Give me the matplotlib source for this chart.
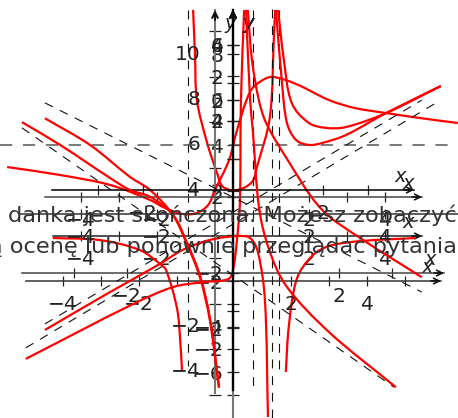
import matplotlib
matplotlib.use('Agg')
import numpy as np
import matplotlib.pyplot as plt
from matplotlib.path import Path
from matplotlib.patches import PathPatch

W, H = 458, 418

# curve values, each in the units of the panel it is drawn on
a_x = [-5.47, -4.08, -2.76, -1.71, -1.32, -0.84, -0.47, -0.18, 0, 0.37, 0.58, 0.92, 1.18, 1.5, 2.13, 3, 3.68, 4.5, 5.39, 6.39]
a_y = [5.02, 4.67, 4.23, 3.57, 3.22, 2.95, 3.0, 3.35, 4.01, 5.33, 6.65, 8.33, 8.77, 8.99, 8.68, 7.97, 7.62, 7.4, 7.18, 6.96]

c_left_x = [-4.74, -3.5, -2.45, -1.92, -1.76, -1.47, -1.39, -1.34]
c_left_y = [-0.09, -0.18, -0.62, -1.23, -1.5, -3.22, -4.58, -5.99]
c_mid_x = [-1.05, -1.0, -0.95, -0.68, -0.42, -0.26, 0.11, 0.5, 0.63, 0.97, 1.08, 1.11]
c_mid_y = [9.96, 7.97, 5.99, 4.1, 2.78, 2.16, 2.03, 2.38, 3.04, 5.24, 8.94, 9.96]
c_right_x = [1.39, 1.47, 1.68, 2.08, 2.53, 3.39, 4.79]
c_right_y = [-5.99, -3.96, -1.89, -0.88, -0.44, -0.22, -0.09]

b_left_x = [-4.95, -3.32, -1.92, -1.32, -0.61, 0.11, 0.45, 0.66, 0.84, 0.92]
b_left_y = [-3.5, -2.55, -1.76, -1.39, -1.13, -1.03, -1.08, -1.47, -2.71, -5.79]
b_right_x = [1.13, 1.29, 1.42, 1.66, 2, 2.34, 2.97, 4.03, 5.47]
b_right_y = [4.92, 3.0, 1.95, 1.5, 1.37, 1.42, 1.63, 2.21, 2.92]

d_left_x = [-3.91, -1.89, -1.13, -0.57, -0.09, 0, 0.08, 0.13, 0.15, 0.21]
d_left_y = [-2.26, -0.82, -0.37, -0.24, -0.16, 0.08, 0.95, 1.84, 4.55, 6.92]
d_right_x = [0.85, 0.96, 1.11, 1.43, 1.75, 2.13, 2.89, 3.92]
d_right_y = [6.92, 5.61, 4.47, 3.95, 3.82, 3.84, 4.21, 4.92]

e_left_x = [-4.69, -3.84, -2.73, -2.29, -1.84, -1.33, -1.02, -0.73, -0.51, -0.31]
e_left_y = [1.19, 0.79, 0.21, 0, -0.12, -0.44, -0.93, -1.51, -2.26, -3.46]
e_right_x = [0.29, 0.38, 0.44, 0.58, 0.8, 1.18, 2.13, 3.62]
e_right_y = [3.16, 1.58, 1.05, -0.32, -1.04, -1.68, -2.49, -3.46]

f_left_x = [-4.95, -3.76, -2.71, -2.18, -1.58, -1.21, -0.87, -0.61, -0.37]
f_left_y = [1.68, 1.21, 0.65, 0.42, -0.02, -0.53, -1.11, -1.86, -3.05]
f_right_x = [0.39, 0.5, 0.68, 0.87, 1.39, 2.32, 3.39, 4.97]
f_right_y = [3.58, 2.7, 2.0, 1.6, 1.0, 0.09, -0.44, -1.11]

# asymptotes
a_hline = [6]
c_vlines = [-1.18, 1.21]
b_vline = [1.03]
d_vline = [0.38]
b_slant = ([-4.95, 4.97], [-3.34, 2.55])
d_slant = ([-3.91, 3.92], [-1.97, 4.55])
e_slant = ([-4.69, 3.58], [1.09, -3.46])
f_slant = ([-4.95, 4.97], [1.95, -1.37])


# each call adds one overlaid coordinate system, placed by its origin and scale in pixels
def panel(x0, y0, sx, sy, xticks, xlabels, yticks, ylabels, xspan, yspan, xcolor, ycolor, ypad, xname='x'):
    ax = fig.add_axes([0, 0, 1, 1], facecolor='none')
    ax.set_xlim(-x0 / sx, (W - x0) / sx)
    ax.set_ylim((y0 - H) / sy, y0 / sy)
    for s in ['top', 'right']:
        ax.spines[s].set_visible(False)
    ax.spines['bottom'].set_position(('data', 0))
    ax.spines['left'].set_position(('data', 0))
    ax.spines['bottom'].set_bounds((xspan[0] - x0) / sx, (xspan[1] - x0) / sx)
    ax.spines['left'].set_bounds((y0 - yspan[1]) / sy, (y0 - yspan[0]) / sy)
    ax.spines['bottom'].set_color(xcolor)
    ax.spines['left'].set_color(ycolor)
    ax.spines['bottom'].set_linewidth(1.1)
    ax.spines['left'].set_linewidth(1.5)
    ax.set_xticks(xticks, xlabels)
    ax.set_yticks(yticks, ylabels)
    ax.tick_params(axis='x', direction='inout', length=7.5, width=0.9, pad=6.5, colors='#222222', labelsize=14.5)
    ax.tick_params(axis='y', direction='inout', length=8.5, width=0.9, pad=ypad, colors='#222222', labelsize=14.5)
    xend = (xspan[1] - x0) / sx
    ax.annotate('', xy=(xend, 0), xytext=(xend - 10 / sx, 0),
                arrowprops=dict(arrowstyle='->', lw=1.2, color='#111111', shrinkA=0, shrinkB=0))
    ax.annotate('', xy=(0, (y0 - yspan[0]) / sy), xytext=(0, (y0 - yspan[0] - 10) / sy),
                arrowprops=dict(arrowstyle='->', lw=1.5, color='#111111', shrinkA=0, shrinkB=0))
    ax.annotate(xname, xy=(xend, 0), xytext=(-10, 10), textcoords='offset points', ha='center', va='center',
                fontsize=14, style='italic', color='#222222')
    ax.annotate('y', xy=(0, (y0 - yspan[0]) / sy), xytext=(11, -10), textcoords='offset points', ha='center', va='center',
                fontsize=14, style='italic', color='#222222')
    return ax


def smooth(ax, xs, ys):
    # bezier segments through the read points, tangents taken in pixels so steep parts do not overshoot
    p = ax.transData.transform(np.column_stack([xs, ys]))
    d = np.linalg.norm(np.diff(p, axis=0), axis=1)
    tang = np.gradient(p, axis=0)
    tang[1:-1] = p[2:] - p[:-2]
    tang[0] = p[1] - p[0]
    tang[-1] = p[-1] - p[-2]
    tang = tang / np.linalg.norm(tang, axis=1, keepdims=True)
    verts = [p[0]]
    codes = [Path.MOVETO]
    for i in range(len(p) - 1):
        verts += [p[i] + tang[i] * d[i] / 3, p[i + 1] - tang[i + 1] * d[i] / 3, p[i + 1]]
        codes += [Path.CURVE4] * 3
    verts = ax.transData.inverted().transform(np.array(verts))
    ax.add_patch(PathPatch(Path(verts, codes), fill=False, edgecolor='#ff0000', lw=1.6, capstyle='butt', zorder=5))


def dashed(ax, xs, ys, color='#111111', lw=0.8):
    ax.plot(xs, ys, color=color, lw=lw, dashes=(8, 7), zorder=3)


fig = plt.figure(figsize=(W / 100, H / 100), dpi=100)

# y = 236 system, gray tail of the axis reaches the bottom
ax3 = panel(233, 236, 38, 22.7, [-4, -3, -2, 2, 3, 4], ['−4', '', '−2', '2', '', '4'],
            [-7, -6, -4, -2, 2, 4, 6, 8], ['', '−6', '−4', '−2', '2', '4', '6', '8'],
            (53, 422), (10, 418), '#222222', '#777777', 2.5)
# y = 281 system on the left gray axis
ax1 = panel(215, 281, 38, 22.7, [-4, -3, -2, -1, 1, 2, 3, 4, 5], ['−4', '', '−2', '', '', '2', '', '4', ''],
            [-5, -3, -1, 1, 3, 5, 7, 9, 11], [''] * 9,
            (26, 441), (10, 393), '#333333', '#777777', 6.5)
for v, lab in zip([-4, -2, 4, 6, 8, 10], ['−4', '−2', '4', '6', '8', '10']):
    ax1.text(-0.39, v, lab, ha='right', va='center', fontsize=14.5, color='#222222')
ax2 = panel(233, 273, 53, 38, [-3, -2, 2, 3], ['', '−2', '2', ''],
            [-2, -1, 1, 2, 3, 4, 5, 6], ['−2', '', '', '2', '', '4', '', '6'],
            (22, 444), (10, 390), '#444444', '#000000', 2.5)
ax4 = panel(233, 197, 38, 38, [-4, -3, -2, 2, 3, 4], ['−4', '', '−2', '2', '', '4'],
            [-2, -1, 1, 2, 4], ['−2', '', '', '2', '4'],
            (45, 422), (10, 390), '#444444', '#000000', 2.5)
ax5 = panel(233, 214, 38, 57, [-4, -2, 2, 4], ['−4', '−2', '2', '4'],
            [-2, 2], ['−2', '2'],
            (20, 460), (10, 390), '#333333', '#000000', 2.5, xname='x,')
ax6 = panel(233, 190, 45, 57, [-3, -2, 2, 3], ['', '−2', '2', ''],
            [-2, 2], ['', '2'],
            (52, 414), (10, 390), '#000000', '#000000', 2.5)

dashed(ax1, ax1.get_xlim(), a_hline * 2, color='#555555', lw=1.1)
dashed(ax3, [c_vlines[0]] * 2, [9.96, -5.73])
dashed(ax3, [c_vlines[1]] * 2, [9.96, -5.99])
dashed(ax4, b_vline * 2, [4.95, -5.82])
dashed(ax2, d_vline * 2, [6.92, -3.16])
dashed(ax4, *b_slant)
dashed(ax2, *d_slant)
dashed(ax6, *e_slant)
dashed(ax5, *f_slant)

smooth(ax1, a_x, a_y)
smooth(ax3, c_left_x, c_left_y)
smooth(ax3, c_mid_x, c_mid_y)
smooth(ax3, c_right_x, c_right_y)
smooth(ax4, b_left_x, b_left_y)
smooth(ax4, b_right_x, b_right_y)
smooth(ax2, d_left_x, d_left_y)
smooth(ax2, d_right_x, d_right_y)
smooth(ax6, e_left_x, e_left_y)
smooth(ax6, e_right_x, e_right_y)
smooth(ax5, f_left_x, f_left_y)
smooth(ax5, f_right_x, f_right_y)

# page text that runs across the plots, cut by the picture edges
fig.text(0.998, 1 - 222 / H, 'danka jest skończona. Możesz zobaczyć', ha='right', va='baseline', fontsize=16.2, color='#333333')
fig.text(0.998, 1 - 253 / H, 'swoją ocenę lub ponownie przeglądać pytania', ha='right', va='baseline', fontsize=16.1, color='#333333')

fig.savefig('out.png', dpi=100)
